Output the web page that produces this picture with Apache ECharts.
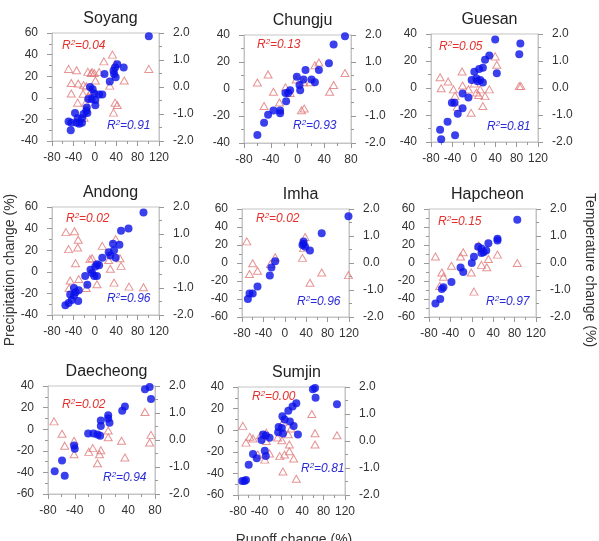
<!DOCTYPE html>
<html>
<head>
<meta charset="utf-8">
<script src="https://cdn.jsdelivr.net/npm/echarts@6/dist/echarts.min.js"></script>
<style>
  html, body { margin: 0; padding: 0; background: #fff; }
  #chart { width: 599px; height: 541px; }
</style>
</head>
<body>
<div id="chart"></div>
<script>
// ============================================
// 数据 (从图中读取, [径流变化 %, 值])
// ============================================
const stations = ['Soyang', 'Chungju', 'Guesan', 'Andong', 'Imha', 'Hapcheon', 'Daecheong', 'Sumjin'];

// 降水变化 (%) - 蓝色实心点, 左轴
const soyangPrecip = [[101, 57], [42, 31], [38, 28], [35, 25], [36, 22], [39, 19], [54, 28], [18, 22], [28, 15],
    [-9, 10], [-4, 8], [-1, 4], [8, 3], [14, 3], [-12, -1], [-6, -1], [1, -2], [1, -7], [-15, -9], [-16, -12],
    [-14, -14], [-21, -15], [-24, -19], [-32, -19], [-37, -14], [-34, -23], [-24, -23], [-29, -24], [-49, -22],
    [-44, -23], [-45, -30]];
const chungjuPrecip = [[71, 39], [54, 33], [47, 19], [32, 14], [12, 14], [-1, 9], [9, 7], [21, 7], [26, 5],
    [3, 3], [4, -1], [-11, -1], [-14, -3], [-18, -3], [-17, -9], [-26, -16], [-26, -18], [-36, -16], [-44, -19],
    [-50, -25], [-60, -34]];
const guesanPrecip = [[40, 36], [87, 33], [85, 25], [29, 24], [21, 21], [43, 11], [17, 15], [10, 14], [1, 12],
    [-4, 6], [5, 7], [12, 6], [17, 4], [7, 5], [-21, -4], [-10, -7], [-41, -11], [-36, -11], [-21, -15],
    [-30, -19], [-49, -25], [-63, -31], [-61, -38], [-35, -35]];
const andongPrecip = [[91, 55], [63, 40], [49, 38], [46, 25], [34, 26], [39, 13], [36, 20], [26, 18], [29, 15],
    [14, 13], [4, 7], [8, 6], [1, 5], [-8, 2], [-5, -1], [-1, -4], [4, -4], [-18, -4], [-14, -12], [-39, -15],
    [-30, -17], [-36, -19], [-46, -21], [-39, -22], [-43, -26], [-31, -27], [-49, -29], [-55, -31]];
const imhaPrecip = [[119, 52], [69, 33], [35, 24], [33, 20], [38, 18], [47, 14], [35, 21], [-18, 2], [-25, -5],
    [-28, -14], [-51, -26], [-60, -34], [-66, -34], [-69, -40]];
const hapcheonPrecip = [[85, 48], [48, 27], [48, 25], [31, 22], [27, 14], [12, 18], [18, 16], [18, 11], [22, 12],
    [4, 7], [0, 0], [-21, -5], [-16, -10], [-38, -21], [-53, -27], [-56, -29], [-59, -40], [-68, -45]];
const daecheongPrecip = [[72, 39], [65, 37], [74, 28], [35, 21], [31, 17], [10, 13], [10, 10], [12, 6], [-1, 8],
    [-1, 3], [-20, -4], [-12, -4], [-6, -5], [-2, -6], [-41, -15], [-40, -18], [-59, -29], [-70, -39], [-55, -43]];
const sumjinPrecip = [[60, 38], [64, 39], [65, 30], [105, 24], [29, 25], [22, 22], [14, 18], [3, 13], [7, 10],
    [17, 8], [24, 4], [-4, 3], [2, 2], [-5, -2], [4, -3], [32, -4], [-28, -5], [-33, -4], [-21, -7], [-36, -9],
    [-30, -19], [-28, -24], [-52, -22], [-45, -26], [-60, -32], [-68, -47], [-72, -47], [-65, -46]];

// 气温变化 (%) - 红色空心三角, 右轴
const soyangTemp = [[-49, 0.67], [-34, 0.62], [-13, 0.56], [-5, 0.55], [-1, 0.52], [8, 0.55], [-7, 0.52],
    [17, 0.95], [33, 1.2], [38, 0.86], [101, 0.67], [55, 0.24], [1, 0.24], [-44, 0.15], [-31, 0.13], [-21, 0.07],
    [-16, 0.03], [-7, -0.15], [-44, -0.24], [-22, -0.25], [-32, -0.58], [-17, -0.58], [-12, -0.34], [38, -0.58],
    [42, -0.67], [35, -0.95], [-20, -1.14], [28, 0.05]];
const chungjuTemp = [[-60, 0.24], [-44, 0.54], [-36, -0.1], [-50, -0.63], [-27, -0.5], [-18, 0.06], [-11, -0.15],
    [-2, 0.35], [9, 0.25], [6, -0.79], [10, -0.72], [26, 0.88], [32, 0.98], [19, 0.25], [71, 0.59], [48, -0.1],
    [54, 0.15]];
const guesanTemp = [[-63, 0.4], [-61, -0.01], [-48, 0.24], [-38, -0.05], [-35, -0.29], [-31, -0.7], [-22, 0.61],
    [-21, 0.09], [-10, -0.05], [-5, -0.92], [1, 0.17], [5, -0.17], [9, -0.26], [12, -0.05], [17, -0.67],
    [21, -0.3], [29, -0.05], [40, 1.17], [43, 0.86], [85, 0.07], [88, 0.07]];
const andongTemp = [[-54, 1.07], [-38, 1.1], [-31, 0.79], [-32, 0.5], [-49, 0.44], [-36, -0.08], [-46, -0.72],
    [-30, -0.67], [-48, -1.0], [-16, -1.0], [-9, 0.07], [-5, 0.1], [14, 0.56], [4, -0.86], [26, 0.04],
    [29, -0.29], [36, -0.8], [39, 0.81], [47, 0.1], [49, -0.18], [64, -0.95], [91, -0.97]];
const imhaTemp = [[-71, 0.8], [-66, -0.41], [-60, -0.01], [-51, -0.29], [-27, -0.04], [-18, 0.21], [38, 0.96],
    [35, 0.55], [33, 0.19], [47, -0.73], [69, -0.35], [119, -0.45]];
const hapcheonTemp = [[-68, 0.24], [-56, -0.35], [-53, -0.51], [-60, -0.85], [-38, -0.1], [-21, 0.24],
    [-16, 0.4], [-1, -0.35], [4, -1.06], [13, 0.65], [18, -0.07], [28, -0.16], [31, 0.15], [48, 0.31], [85, 0]];
const daecheongTemp = [[-71, 0.69], [-59, 0.23], [-55, -0.21], [-41, -0.03], [-41, -0.53], [-19, -0.44],
    [-13, -0.3], [-6, -0.86], [-3, -0.53], [-1, -0.38], [10, 0.35], [10, 0.1], [30, -0.03], [35, -0.65],
    [65, 1.04], [74, 0.19], [72, -0.09]];
const sumjinTemp = [[-71, 0.56], [-65, -0.06], [-58, 0.16], [-52, 0.09], [-43, -0.5], [-38, 0.21], [-30, -0.69],
    [-27, 0.31], [-27, 0.0], [-21, -0.46], [-6, 0.13], [-2, -0.56], [2, 0.03], [4, -1.13], [4, 0.69], [7, -0.5],
    [14, 0.25], [16, -0.13], [16, -0.38], [24, -0.65], [29, -1.4], [19, 0.46], [58, 1.0], [64, 0.29],
    [64, -0.13], [105, 0.21]];

// R² 数值
const r2Temp = ['0.04', '0.13', '0.05', '0.02', '0.02', '0.15', '0.02', '0.00'];
const r2Precip = ['0.91', '0.93', '0.81', '0.96', '0.96', '0.97', '0.94', '0.81'];

// 坐标轴范围
const xMax = [120, 80, 120, 120, 120, 120, 80, 120];
const yMin = [-40, -40, -40, -40, -60, -60, -60, -60];
const yMax = [60, 40, 40, 60, 60, 60, 40, 40];

const precipData = [soyangPrecip, chungjuPrecip, guesanPrecip, andongPrecip, imhaPrecip, hapcheonPrecip,
    daecheongPrecip, sumjinPrecip];
const tempData = [soyangTemp, chungjuTemp, guesanTemp, andongTemp, imhaTemp, hapcheonTemp, daecheongTemp,
    sumjinTemp];

// ============================================
// 版面 (像素)
// ============================================
const grids = [
    { left: 52, top: 33 }, { left: 244, top: 35 }, { left: 431, top: 34 },
    { left: 52, top: 207 }, { left: 242, top: 209 }, { left: 429, top: 209 },
    { left: 48, top: 386 }, { left: 238, top: 387 }
];
const GW = 107, GH = 108;
// R² 标签位置 (相对于 grid 左上角)
const redPos = [[10, 14], [13, 11], [8, 14], [14, 13], [14, 11], [9, 14], [14, 20], [14, 11]];
const bluePos = [[55, 94], [49, 92], [56, 94], [55, 93], [55, 94], [57, 94], [55, 93], [63, 83]];

const FONT = '"Liberation Sans", Arial, sans-serif';
const BLUE = '#0a10e8';
const RED = '#e07878';
const LABEL = { color: '#333', fontSize: 12, fontFamily: FONT };
const AXIS_LINE = { show: true, onZero: false, lineStyle: { color: '#c4c4c4' } };
const TICK = { show: true, inside: false, length: 5, lineStyle: { color: '#999' } };
const MINOR = { show: true, splitNumber: 2, length: 3, lineStyle: { color: '#999' } };

const option = {
    backgroundColor: '#fff',
    animation: false,
    grid: [], xAxis: [], yAxis: [], series: [], title: [], graphic: []
};

// R² 富文本样式 (graphic 里用 fill)
function richStyle(c) {
    return {
        t: { fontSize: 12, fontStyle: 'italic', fill: c, fontFamily: FONT },
        s: { fontSize: 8, fontStyle: 'italic', fill: c, fontFamily: FONT, verticalAlign: 'top', padding: [0, 0, 6, 0] }
    };
}

stations.forEach((name, i) => {
    const g = grids[i];
    option.grid.push({ left: g.left, top: g.top, width: GW, height: GH, show: true, borderColor: '#c4c4c4', borderWidth: 1 });
    option.xAxis.push({
        gridIndex: i, type: 'value', min: -80, max: xMax[i], interval: 40,
        axisLine: AXIS_LINE, axisTick: TICK, minorTick: MINOR, splitLine: { show: false },
        axisLabel: Object.assign({ margin: 11, interval: 0, hideOverlap: false, showMinLabel: true, showMaxLabel: true }, LABEL)
    });
    option.yAxis.push({
        gridIndex: i, type: 'value', position: 'left', min: yMin[i], max: yMax[i], interval: 20,
        axisLine: AXIS_LINE, axisTick: TICK, minorTick: MINOR, splitLine: { show: false },
        axisLabel: Object.assign({ margin: 14 }, LABEL)
    });
    option.yAxis.push({
        gridIndex: i, type: 'value', position: 'right', min: -2, max: 2, interval: 1,
        axisLine: AXIS_LINE, axisTick: TICK, minorTick: MINOR, splitLine: { show: false },
        axisLabel: Object.assign({ margin: 14, formatter: v => v.toFixed(1) }, LABEL)
    });
    option.series.push({
        type: 'scatter', xAxisIndex: i, yAxisIndex: 2 * i + 1, data: tempData[i],
        symbol: 'triangle', symbolSize: [8, 7],
        itemStyle: { color: 'rgba(255,255,255,0)', borderColor: RED, borderWidth: 1 }
    });
    option.series.push({
        type: 'scatter', xAxisIndex: i, yAxisIndex: 2 * i, data: precipData[i],
        symbol: 'circle', symbolSize: 8, itemStyle: { color: BLUE }
    });
    option.title.push({
        text: name, left: g.left + GW / 2, top: g.top - 27, textAlign: 'center',
        textStyle: { fontSize: 16, fontWeight: 'normal', color: '#222', fontFamily: FONT }
    });
    option.graphic.push({
        type: 'text', left: g.left + redPos[i][0], top: g.top + redPos[i][1] - 8, z: 10,
        style: { text: '{t|R}{s|2}{t|=' + r2Temp[i] + '}', rich: richStyle('#e4302c') }
    });
    option.graphic.push({
        type: 'text', left: g.left + bluePos[i][0], top: g.top + bluePos[i][1] - 8, z: 10,
        style: { text: '{t|R}{s|2}{t|=' + r2Precip[i] + '}', rich: richStyle('#2a2ad6') }
    });
});

// 轴标题
option.graphic.push({
    type: 'text', x: 10, y: 270, rotation: Math.PI / 2,
    style: { text: 'Precipitation change (%)', fontSize: 14, fill: '#333', fontFamily: FONT, align: 'center', verticalAlign: 'middle' }
});
option.graphic.push({
    type: 'text', x: 590, y: 270, rotation: -Math.PI / 2,
    style: { text: 'Temperature change (%)', fontSize: 14, fill: '#333', fontFamily: FONT, align: 'center', verticalAlign: 'middle' }
});
option.graphic.push({
    type: 'text', x: 294, y: 533,
    style: { text: 'Runoff change (%)', fontSize: 14, fill: '#333', fontFamily: FONT, align: 'center', verticalAlign: 'top' }
});

const chart = echarts.init(document.getElementById('chart'));
chart.setOption(option);
</script>
</body>
</html>
